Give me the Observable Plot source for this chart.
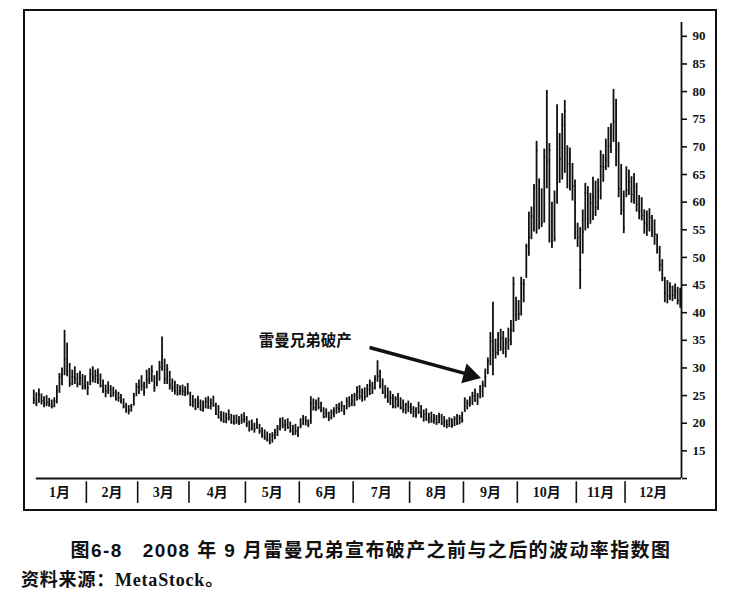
<!DOCTYPE html>
<html><head><meta charset="utf-8">
<script src="https://cdn.jsdelivr.net/npm/d3@7"></script>
<script src="https://cdn.jsdelivr.net/npm/@observablehq/plot@0.6"></script>
<style>
html,body{margin:0;padding:0;background:#fff;}
body{width:740px;height:598px;position:relative;overflow:hidden;}
#frame{position:absolute;left:23px;top:9px;width:690px;height:498px;border:2.5px solid #111;}
#chart{position:absolute;left:0;top:0;}
#caption{position:absolute;left:0;top:541px;width:742px;text-align:center;white-space:pre;
  font-family:"Liberation Sans","Noto Sans CJK SC",sans-serif;font-weight:bold;font-size:19px;line-height:20px;letter-spacing:1.4px;color:#111;}
#source{position:absolute;left:21px;top:569px;white-space:pre;
  font-family:"Liberation Serif","Noto Sans CJK SC",serif;font-weight:bold;font-size:18px;line-height:22px;letter-spacing:0.8px;color:#111;}
</style></head>
<body>
<div id="frame"></div>
<div id="chart"></div>
<div id="caption">图6-8   2008 年 9 月雷曼兄弟宣布破产之前与之后的波动率指数图</div>
<div id="source">资料来源：MetaStock。</div>
<script>
// ---- data ----
const months = ["1月","2月","3月","4月","5月","6月","7月","8月","9月","10月","11月","12月"];
const monthDays = [21,20,20,22,21,21,22,21,21,23,19,22];
const yTicks = [10,15,20,25,30,35,40,45,50,55,60,65,70,75,80,85,90];

const high = [
  26.0,25.5,26.2,25.3,24.8,25.0,24.5,24.2,24.6,26.8,29.0,30.0,36.8,34.5,30.8,29.6,30.2,29.0,29.4,28.8,28.6,
  27.5,29.8,30.2,29.6,29.8,28.9,27.8,26.9,27.5,26.8,26.5,26.0,25.6,25.2,24.4,23.6,23.2,23.4,25.4,27.2,
  27.8,28.6,27.4,29.6,29.9,30.4,28.6,29.4,31.2,35.6,31.6,30.6,29.4,28.0,27.6,27.0,26.8,26.9,26.6,27.2,
  25.6,25.0,24.4,24.9,24.2,24.0,24.6,24.8,24.4,24.9,23.6,23.2,22.1,22.0,21.8,22.4,21.6,21.4,21.5,21.2,21.6,21.9,
  21.2,20.4,20.6,20.0,20.8,19.8,19.2,18.8,18.4,18.1,18.3,18.9,19.6,20.9,21.0,20.6,20.8,20.2,19.6,19.8,19.3,
  20.8,21.4,21.2,20.6,24.8,24.4,24.2,24.6,23.8,22.8,22.6,22.0,22.4,22.8,23.4,23.6,23.9,23.2,24.6,24.8,25.2,
  25.4,26.6,26.8,26.2,26.4,27.0,27.8,27.4,28.6,31.3,29.6,28.0,26.8,26.4,25.8,25.2,24.8,25.4,24.6,24.2,23.6,24.0,
  23.6,23.0,22.8,23.8,23.2,22.4,22.6,21.8,22.0,21.6,21.4,21.8,21.6,21.2,20.6,21.0,20.8,21.2,21.6,21.4,22.0,
  24.6,24.2,24.8,25.6,26.2,25.4,26.8,27.6,29.8,31.8,36.4,41.9,35.2,36.4,37.0,36.6,35.4,37.2,38.6,46.4,42.8,
  42.2,46.4,46.0,52.4,58.2,59.1,63.2,71.0,64.2,62.4,69.6,80.2,70.6,60.0,62.0,77.6,72.4,76.0,78.4,70.2,69.8,67.0,64.0,
  56.2,55.4,58.6,63.4,62.8,61.6,64.5,63.8,64.2,69.3,68.6,71.4,73.5,74.2,80.4,78.6,70.8,66.8,62.0,
  66.4,65.8,64.6,65.2,63.4,61.2,60.8,58.6,58.4,58.8,57.6,56.8,54.2,52.0,49.6,46.4,45.8,45.4,44.8,45.2,44.6,44.4
];
const low = [
  23.4,23.0,23.6,23.3,22.8,23.0,22.9,22.6,22.8,23.5,25.4,26.8,28.6,28.4,26.5,26.8,27.0,26.4,26.8,26.0,26.0,
  25.0,26.8,27.3,27.2,27.0,26.4,25.4,24.6,25.2,24.6,24.7,24.0,23.8,23.5,22.6,21.8,21.5,22.0,23.1,24.8,
  25.2,25.8,24.9,26.2,27.0,27.4,25.6,26.6,27.6,29.4,27.0,27.0,26.0,25.6,25.1,24.9,25.0,24.9,24.8,25.0,
  23.0,22.8,22.3,22.6,22.2,22.0,22.6,22.5,22.4,22.9,21.4,20.8,20.2,20.0,19.9,20.4,19.8,19.7,19.8,19.6,19.8,20.0,
  19.2,18.4,18.6,18.2,18.9,18.0,17.3,16.9,16.6,16.1,16.4,17.0,17.6,18.6,19.0,18.5,18.9,18.2,17.7,17.8,17.4,
  19.0,19.6,19.5,19.2,19.8,22.2,22.1,22.4,21.9,20.8,20.9,20.3,20.6,21.0,21.6,21.8,22.0,21.4,22.4,22.8,23.0,
  23.0,24.0,24.2,23.8,24.0,24.6,25.0,25.2,26.0,27.4,26.2,25.2,24.4,23.6,23.2,22.6,22.6,22.8,22.4,21.8,21.6,21.9,
  21.6,21.0,20.9,21.6,20.9,20.2,20.4,19.9,20.0,19.8,19.6,19.9,19.6,19.2,19.0,19.2,19.1,19.4,19.6,19.7,20.0,
  22.0,22.4,22.9,23.2,23.8,23.2,24.4,24.6,26.4,28.8,30.4,28.6,31.6,32.2,33.0,32.4,31.8,33.2,34.0,36.4,38.4,
  38.6,39.4,41.8,46.2,50.2,53.2,54.6,54.2,55.0,55.4,56.2,62.4,52.6,51.6,52.8,59.6,63.4,64.0,65.2,62.4,62.0,60.2,53.2,
  51.8,44.2,50.6,54.8,55.2,56.0,56.7,57.4,58.5,60.4,63.6,65.7,66.2,68.8,70.8,66.4,60.8,57.6,54.3,
  60.8,61.2,59.8,59.6,58.2,56.8,56.6,54.2,53.8,54.6,53.6,52.2,50.6,47.4,45.6,41.8,41.6,42.2,42.0,42.4,41.4,40.8
];
const close = [
  24.2,23.6,25.1,24.1,23.6,23.8,23.4,23.1,24.0,25.9,28.3,28.8,31.6,29.5,27.2,28.4,28.0,27.1,28.2,26.6,26.9,
  26.4,28.9,28.3,28.6,27.8,26.8,25.8,25.9,26.1,25.0,25.5,24.4,24.6,24.0,23.0,22.3,22.4,23.0,24.9,26.6,
  26.5,26.8,25.6,27.8,28.1,29.4,26.4,27.3,30.2,32.2,28.0,29.8,26.8,26.4,25.9,25.4,25.9,25.8,25.6,25.6,
  23.4,23.9,22.6,23.6,22.4,22.8,23.9,23.0,23.6,23.2,21.6,21.0,20.6,20.3,20.9,21.1,20.2,19.9,20.4,20.0,20.6,20.8,
  19.9,19.0,19.4,18.9,19.2,18.6,17.8,17.4,17.0,16.4,17.8,18.4,19.1,20.2,19.6,19.8,19.2,18.6,18.2,18.6,17.9,
  19.6,20.8,20.4,19.8,23.6,22.8,23.6,22.9,22.4,21.2,21.8,21.0,22.0,22.3,22.8,22.6,23.2,22.0,24.0,23.5,24.0,
  25.0,25.7,24.9,25.6,24.8,26.2,26.8,26.4,28.0,28.5,26.8,25.6,24.9,24.0,24.6,23.1,24.4,23.4,22.8,22.4,23.4,22.9,
  22.6,22.1,21.4,22.0,21.2,21.6,20.6,20.9,20.4,20.8,20.1,21.1,19.9,20.2,19.8,20.6,19.6,20.8,20.0,21.0,20.6,
  22.2,23.6,24.2,24.9,24.0,24.9,25.8,26.9,28.4,31.3,34.8,33.1,32.8,34.0,35.4,33.6,34.6,35.0,36.8,45.2,39.6,
  39.8,45.3,45.1,52.0,53.7,57.5,62.6,69.4,55.4,56.2,68.2,67.6,69.4,53.0,53.4,69.6,67.8,74.0,76.4,66.9,68.6,62.9,59.9,
  53.6,47.7,54.6,61.6,56.1,59.8,60.9,59.0,62.2,66.5,66.3,67.6,70.2,72.8,74.6,69.4,62.4,58.6,55.3,
  62.2,63.6,61.4,62.8,59.6,58.4,57.6,56.2,55.8,57.2,54.6,54.2,51.4,48.6,46.2,43.6,43.0,44.6,43.2,44.0,42.2,43.4
];
// annotation (in data units: trading-day index, index value)
const noteText = ["雷曼兄弟破产"];
const noteAt = [{x: 106.3, y: 34.9}];
const arrowLine = [{x1: 131.4, y1: 33.7, x2: 171.0, y2: 28.7}];
const arrowHead = [{x: 170.4, y: 28.74}];

// ---- build ----
const n = Math.min(high.length, low.length, close.length);
const bars = d3.range(n).map(i => ({i, h: high[i], l: low[i], c: close[i]}));
const totalDays = d3.sum(monthDays);
const ends = Array.from(d3.cumsum(monthDays));
const monthMarks = months.map((m, k) => ({m, mid: ((k ? ends[k-1] : 0) + ends[k]) / 2}));
const seps = ends.slice(0, -1);
const yMin = 10, yMax = 92.5;

const serif = "'Liberation Serif','Noto Sans CJK SC',serif";
const chart = Plot.plot({
  width: 740, height: 520,
  marginLeft: 32, marginRight: 59, marginTop: 22, marginBottom: 42,
  x: {domain: [0, totalDays], axis: null},
  y: {domain: [yMin, yMax], axis: null},
  style: {background: "transparent", color: "#111", overflow: "visible"},
  marks: [
    Plot.ruleX(bars, {x: d => d.i + 0.5, y1: "l", y2: "h", stroke: "#111", strokeWidth: 1.8}),
    Plot.ruleY(bars, {y: "c", x1: d => d.i + 0.5, x2: d => d.i + 1.1, stroke: "#111", strokeWidth: 1.4}),
    Plot.ruleX([totalDays], {y1: yMin, y2: yMax, stroke: "#111", strokeWidth: 1.8}),
    Plot.ruleY([yMin], {x1: 1.5, x2: totalDays, stroke: "#111", strokeWidth: 2}),
    Plot.axisY(yTicks, {anchor: "right", tickSize: 5, tickPadding: 6, strokeWidth: 1.6,
      tickFormat: d => d === yMin ? "" : String(d),
      fontSize: 13, fontWeight: "bold", fontFamily: serif}),
    Plot.ruleX(seps, {y1: 9.4, y2: 5.5, stroke: "#111", strokeWidth: 1.6}),
    Plot.text(monthMarks, {x: "mid", y: 7.45, text: "m", fontSize: 14, fontWeight: "bold", fontFamily: serif, fill: "#111"}),
    Plot.text(noteAt, {x: "x", y: "y", text: (d, k) => noteText[k], fontSize: 15.5, fontWeight: "bold",
      fontFamily: "'Noto Sans CJK SC',sans-serif", fill: "#111"}),
    Plot.link(arrowLine, {x1: "x1", y1: "y1", x2: "x2", y2: "y2", stroke: "#111", strokeWidth: 3.4}),
    Plot.dot(arrowHead, {x: "x", y: "y", symbol: "triangle", r: 7.6, rotate: 105, fill: "#111", stroke: "none"})
  ]
});
document.getElementById("chart").appendChild(chart);
</script>
</body></html>
